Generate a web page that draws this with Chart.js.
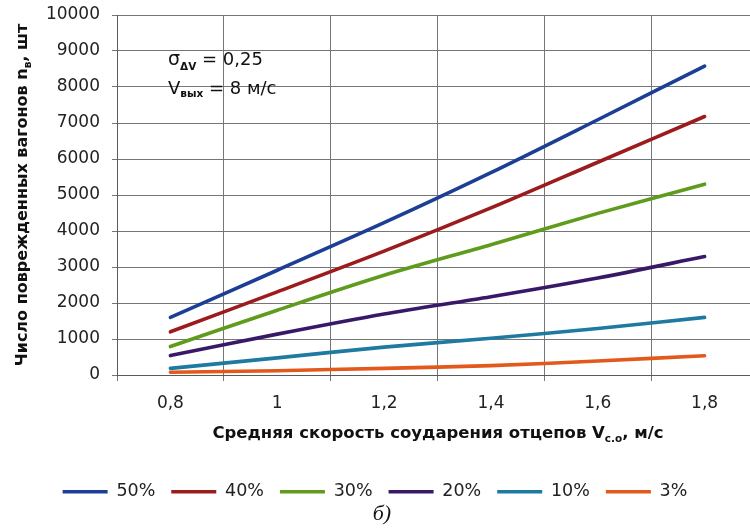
<!DOCTYPE html>
<html lang="ru">
<head>
<meta charset="utf-8">
<title>Число поврежденных вагонов</title>
<script src="https://cdn.jsdelivr.net/npm/chart.js@4.4.1/dist/chart.umd.min.js"></script>
<style>
  html, body { margin: 0; padding: 0; background: #ffffff; overflow: hidden; }
</style>
</head>
<body>
<canvas id="chart" width="750" height="531"></canvas>
<script>
// Средняя скорость соударения отцепов, м/с
const speeds = [0.8, 1.0, 1.2, 1.4, 1.6, 1.8];

// Число поврежденных вагонов по доле вагонов с опасными грузами
const seriesNames = ['50%', '40%', '30%', '20%', '10%', '3%'];
const s50 = [1600, 2910, 4230, 5620, 7090, 8580];
const s40 = [1200, 2310, 3440, 4640, 5910, 7180];
const s30 = [790, 1800, 2770, 3620, 4490, 5300];
const s20 = [540, 1135, 1695, 2175, 2695, 3290];
const s10 = [185, 475, 775, 1020, 1290, 1600];
const s3  = [75, 120, 185, 260, 390, 535];
const seriesColors = ['#1c3f95', '#9c1b1d', '#5f9b1c', '#381867', '#1e7aa0', '#e2591b'];

const yMin = 0, yMax = 10000, yStep = 1000;
// speed axis: grid lines fall half-way between the labelled speeds
const xMin = 0.7, xMax = 1.885, xStep = 0.1;

const TICK_FONT = { family: '"DejaVu Sans", sans-serif', size: 17 };
const LEGEND_FONT = { family: '"DejaVu Sans", sans-serif', size: 17.5 };
const GRID = '#767676';

const onTenth = v => Math.abs(v * 10 - Math.round(v * 10)) < 1e-6;
const isLabelled = v => onTenth(v) && Math.round(v * 10) % 2 === 0;
const isGridLine = v => onTenth(v) && Math.round(v * 10) % 2 === 1;

// Draw a run of text pieces (with sub-scripts) on the current transform
function drawRich(ctx, parts, align) {
  let total = 0;
  parts.forEach(p => { ctx.font = p.font; p.w = ctx.measureText(p.text).width; total += p.w; });
  let x = align === 'left' ? 0 : -total / 2;
  parts.forEach(p => {
    ctx.font = p.font;
    ctx.fillText(p.text, x, p.dy || 0);
    x += p.w;
  });
}

const captions = {
  id: 'captions',
  afterDatasetsDraw(chart) {
    const { ctx, chartArea } = chart;
    ctx.save();
    ctx.fillStyle = '#111111';
    ctx.textBaseline = 'alphabetic';
    ctx.textAlign = 'left';

    const bold = s => `bold ${s}px "DejaVu Sans", sans-serif`;
    const reg = s => `${s}px "DejaVu Sans", sans-serif`;

    // parameters of the calculation
    ctx.save();
    ctx.translate(168, 65);
    drawRich(ctx, [
      { text: 'σ', font: reg(19) },
      { text: 'ΔV', font: bold(10.5), dy: 5 },
      { text: ' = 0,25', font: reg(18) }
    ], 'left');
    ctx.restore();

    ctx.save();
    ctx.translate(168, 94);
    drawRich(ctx, [
      { text: 'V', font: reg(18) },
      { text: 'вых', font: bold(10.5), dy: 3 },
      { text: ' = 8 м/с', font: reg(18) }
    ], 'left');
    ctx.restore();

    // x axis title
    ctx.save();
    ctx.translate(438, 438);
    drawRich(ctx, [
      { text: 'Средняя скорость соударения отцепов V', font: bold(16.5) },
      { text: 'с.о', font: bold(10.5), dy: 4 },
      { text: ', м/с', font: bold(16.5) }
    ]);
    ctx.restore();

    // y axis title
    ctx.save();
    ctx.translate(27, (chartArea.top + chartArea.bottom) / 2);
    ctx.rotate(-Math.PI / 2);
    drawRich(ctx, [
      { text: 'Число поврежденных вагонов n', font: bold(16) },
      { text: 'в', font: bold(10.5), dy: 4 },
      { text: ', шт', font: bold(16) }
    ]);
    ctx.restore();

    // figure label
    ctx.textAlign = 'center';
    ctx.font = 'italic 22px "Liberation Serif", "DejaVu Serif", serif';
    ctx.fillText('б)', 382, 520);
    ctx.restore();
  }
};

const datasetsSrc = [s50, s40, s30, s20, s10, s3];

new Chart(document.getElementById('chart'), {
  type: 'line',
  data: {
    datasets: datasetsSrc.map((vals, i) => ({
      label: seriesNames[i],
      data: vals.map((y, j) => ({ x: speeds[j], y })),
      borderColor: seriesColors[i],
      backgroundColor: seriesColors[i],
      borderWidth: 3.6,
      borderCapStyle: 'round',
      borderJoinStyle: 'round',
      pointRadius: 0,
      pointHoverRadius: 0,
      tension: 0.3,
      fill: false
    }))
  },
  options: {
    responsive: false,
    animation: false,
    devicePixelRatio: 1,
    layout: { padding: { left: 0, right: 0, top: 15, bottom: 20.5 } },
    plugins: {
      legend: {
        position: 'bottom',
        labels: {
          usePointStyle: true,
          pointStyle: 'line',
          pointStyleWidth: 45,
          padding: 16,
          color: '#222222',
          font: LEGEND_FONT
        }
      },
      title: { display: false },
      tooltip: { enabled: false }
    },
    scales: {
      x: {
        type: 'linear',
        min: xMin,
        max: xMax,
        grid: {
          color: c => (c.tick && isGridLine(c.tick.value)) ? GRID : 'rgba(0,0,0,0)',
          lineWidth: 1,
          tickLength: 6,
          drawTicks: true
        },
        border: { color: '#5a5a5a', width: 1 },
        ticks: {
          stepSize: xStep,
          includeBounds: false,
          color: '#222222',
          font: TICK_FONT,
          padding: 12,
          maxRotation: 0,
          autoSkip: false,
          callback: v => isLabelled(v) ? String(Math.round(v * 10) / 10).replace('.', ',') : ''
        },
        afterFit(scale) {
          scale.height = 92;
          scale.paddingLeft = 0;
          scale.paddingRight = 0;
        }
      },
      y: {
        min: yMin,
        max: yMax,
        grid: { color: GRID, lineWidth: 1, tickLength: 5 },
        border: { color: '#5a5a5a', width: 1 },
        ticks: {
          stepSize: yStep,
          color: '#222222',
          font: TICK_FONT,
          padding: 12,
          callback: v => String(v)
        },
        afterFit(scale) {
          scale.width = 117;
          scale.paddingTop = 0;
          scale.paddingBottom = 0;
        }
      }
    }
  },
  plugins: [captions]
});
</script>
</body>
</html>
